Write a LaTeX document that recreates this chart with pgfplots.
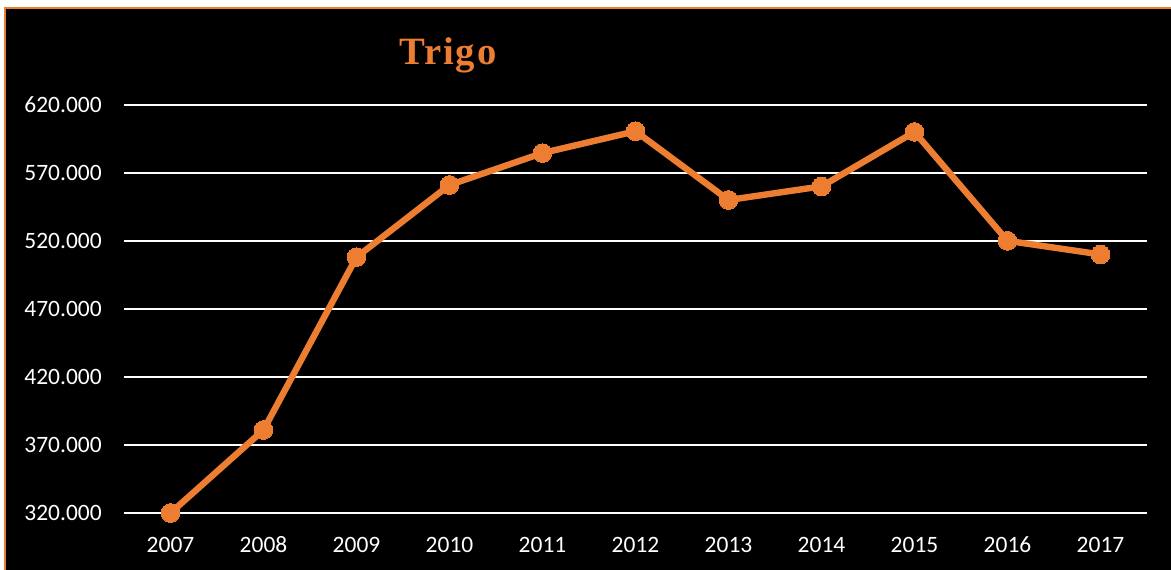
\documentclass[border=0pt]{standalone}
\usepackage{pgfplots}
\pgfplotsset{compat=1.18}
\usepackage{fontspec}
\setmainfont{Carlito}
\newfontfamily\titlefont[LetterSpace=5]{Liberation Serif}
\definecolor{trigo}{HTML}{ED7D31}
\begin{document}
\begin{tikzpicture}[x=0.75pt,y=0.75pt]
\useasboundingbox (0,0) rectangle (1171,570);
\fill[white] (0,0) rectangle (1171,570);
\fill[black] (5,0) rectangle (1171,562);
\draw[trigo, line width=1.5pt] (5,0) -- (5,562) -- (1171,562);
\node[anchor=base, text=trigo, inner sep=0pt, font=\titlefont\bfseries\fontsize{29}{34}\selectfont] at (448,505) {Trigo};
\begin{axis}[
  at={(93pt,42.75pt)}, anchor=south west,
  scale only axis, width=767.25pt, height=306.2pt,
  xmin=2006.5, xmax=2017.5, ymin=320000, ymax=620000,
  clip=false,
  scaled y ticks=false, scaled x ticks=false,
  axis line style={draw=none},
  major tick length=0pt,
  ymajorgrids, grid style={white, line width=1.5pt},
  xtick={2007,2008,2009,2010,2011,2012,2013,2014,2015,2016,2017},
  xticklabels={2007,2008,2009,2010,2011,2012,2013,2014,2015,2016,2017},
  ytick={320000,370000,420000,470000,520000,570000,620000},
  yticklabels={320.000,370.000,420.000,470.000,520.000,570.000,620.000},
  ticklabel style={text=white, font=\fontsize{17.6}{20}\selectfont, inner sep=0pt},
  yticklabel style={anchor=east, xshift=-16.5pt},
  xticklabel style={anchor=base, yshift=-29.3pt},
]
\addplot[trigo, line width=4.8pt, mark=*, mark size=7pt, mark options={fill=trigo, draw=trigo, line width=0pt}] coordinates {
(2007,320000) (2008,381000) (2009,508000) (2010,561000) (2011,584500) (2012,600500)
(2013,550000) (2014,560000) (2015,600000) (2016,520000) (2017,510000)
};
\end{axis}
\end{tikzpicture}
\end{document}
